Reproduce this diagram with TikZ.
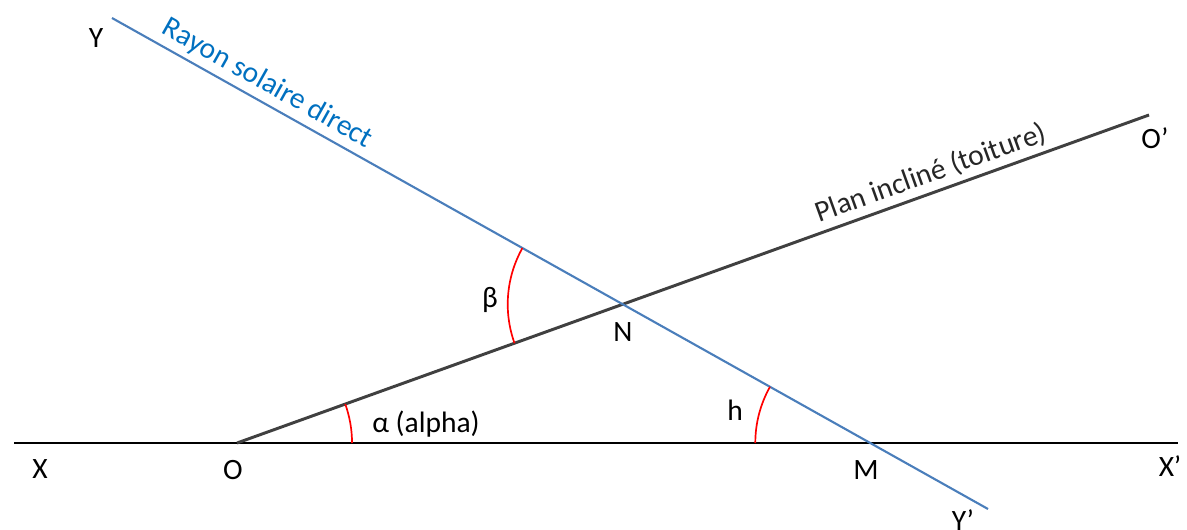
\documentclass[tikz,border=0pt]{standalone}
\usepackage{fontspec}
\setmainfont{Carlito}
\usetikzlibrary{angles}
\definecolor{raycol}{HTML}{4A7EBB}
\definecolor{raytext}{HTML}{0070C0}
\definecolor{roofcol}{HTML}{404040}

\begin{document}
\begin{tikzpicture}[
  x=0.025cm, y=0.025cm,
  ground/.style  ={draw=black,line width=2.1pt},
  roof/.style    ={draw=roofcol,line width=2.1pt},
  ray/.style     ={draw=raycol,line width=1.5pt},
  anglearc/.style={draw=red,line width=1.2pt,angle radius=2.875cm},
  lbl/.style     ={font=\fontsize{21}{24}\selectfont,inner sep=0pt},
  slopelbl/.style={font=\fontsize{21}{24}\selectfont,sloped,above,inner sep=3.5pt}]
\useasboundingbox (0,0) rectangle (1187,529);
% --- end points of the three lines ---
\coordinate (X)  at (14,86);
\coordinate (Xp) at (1178,86);
\coordinate (O)  at (237,86);
\coordinate (Op) at (1149,414);
\coordinate (Y)  at (112,511);
\coordinate (Yp) at (988,20);
\coordinate (N) at (intersection of O--Op and Y--Yp);
\coordinate (M) at (intersection of X--Xp and Y--Yp);
% --- ground, roof and sun ray ---
\draw[ground] (X) -- (Xp);
\draw[roof] (O) -- (Op)
  node[slopelbl,pos=0.768,text=black!85] (roofname) {Plan incliné (toiture)};
\draw[ray] (Y) -- (Yp)
  node[slopelbl,pos=0.167,text=raytext] (rayname) {Rayon solaire direct};
% --- angle marks ---
\pic[anglearc] {angle=Xp--O--Op};
\pic[anglearc] {angle=Y--N--O};
\pic[anglearc] {angle=Y--M--X};
% --- point and angle labels ---
\node[lbl] (lX)  at (40,60)    {X};
\node[lbl] (lO)  at (233,59)   {O};
\node[lbl] (lM)  at (866,59)   {M};
\node[lbl] (lXp) at (1170,63)  {X’};
\node[lbl] (lY)  at (96,491)   {Y};
\node[lbl] (lYp) at (963,9)    {Y’};
\node[lbl] (lOp) at (1155,391) {O’};
\node[lbl] (lN)  at (623,197)  {N};
\node[lbl] (beta)  at (490,229) {β};
\node[lbl] (alpha) at (426,105) {α (alpha)};
\node[lbl] (hgt)   at (735,119) {h};
\end{tikzpicture}
\end{document}
